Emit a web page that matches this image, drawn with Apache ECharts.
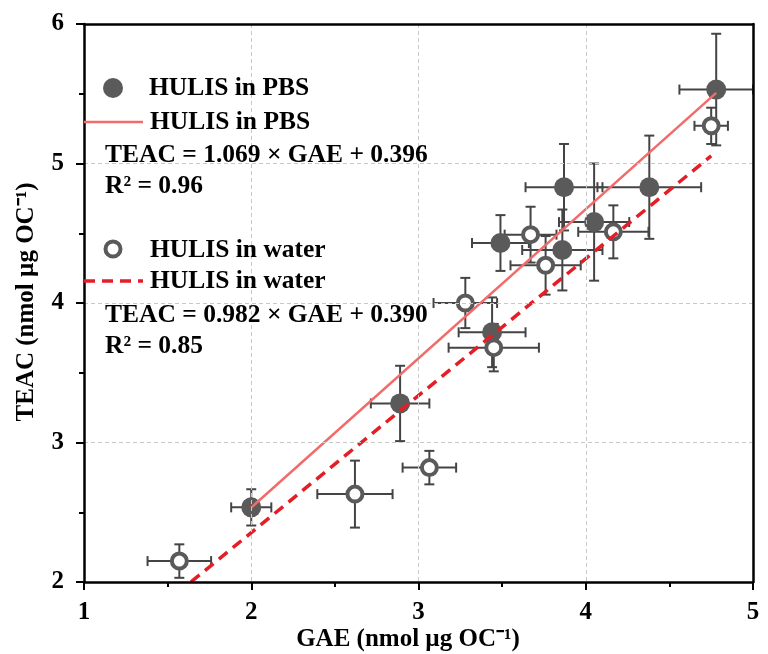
<!DOCTYPE html>
<html>
<head>
<meta charset="utf-8">
<script src="https://cdn.jsdelivr.net/npm/echarts@6/dist/echarts.min.js"></script>
<style>html,body{margin:0;padding:0;background:#fff}#c{width:768px;height:654px}</style>
</head>
<body>
<div id="c"></div>
<script>
// ---- data ----
const pbsX   = [2.00, 2.89, 3.44, 3.49, 3.86, 3.87, 4.05, 4.38, 4.78];
const pbsY   = [2.535, 3.28, 3.79, 4.43, 4.38, 4.83, 4.58, 4.83, 5.53];
const pbsXErr= [0.12, 0.175, 0.20, 0.17, 0.24, 0.23, 0.21, 0.31, 0.22];
const pbsYErr= [0.13, 0.27, 0.25, 0.20, 0.29, 0.31, 0.42, 0.37, 0.40];

const watX   = [1.57, 2.62, 3.065, 3.28, 3.45, 3.67, 3.76, 4.165, 4.75];
const watY   = [2.15, 2.63, 2.82, 4.00, 3.68, 4.49, 4.27, 4.51, 5.27];
const watXErr= [0.19, 0.225, 0.16, 0.19, 0.27, 0.155, 0.21, 0.21, 0.10];
const watYErr= [0.12, 0.24, 0.12, 0.18, 0.17, 0.20, 0.21, 0.19, 0.13];

const pbsFit = {slope: 1.069, intercept: 0.396, xStart: 2.0, xEnd: 4.78};
const watFit = {slope: 0.982, intercept: 0.390, xStart: 1.64, xEnd: 4.75};

const xTicks = [1, 2, 3, 4, 5];
const yTicks = [2, 3, 4, 5, 6];

const legendTexts = ['HULIS in PBS', 'HULIS in PBS', 'TEAC = 1.069 × GAE + 0.396', 'R² = 0.96',
                     'HULIS in water', 'HULIS in water', 'TEAC = 0.982 × GAE + 0.390', 'R² = 0.85'];
const xTitle = 'GAE (nmol µg OC⁻¹)';
const yTitle = 'TEAC (nmol µg OC⁻¹)';

// ---- build ----
const FONT = '"Liberation Serif", "Times New Roman", serif';
const gray = '#5a5a5a';
const errColor = '#444';
const pbsLineColor = '#f26b6b';
const watLineColor = '#e41e26';

function zipErr(xs, ys, xe, ye){ return xs.map((x,i)=>[x, ys[i], xe[i], ye[i]]); }
function fitLine(f){ return [[f.xStart, f.slope*f.xStart+f.intercept],[f.xEnd, f.slope*f.xEnd+f.intercept]]; }

function errRender(params, api){
  const x = api.value(0), y = api.value(1), xe = api.value(2), ye = api.value(3);
  const L = api.coord([x - xe, y]), R = api.coord([x + xe, y]);
  const T = api.coord([x, y + ye]), B = api.coord([x, y - ye]);
  const c = 5;
  const st = {stroke: errColor, lineWidth: 2};
  return {type:'group', children:[
    {type:'line', shape:{x1:L[0],y1:L[1],x2:R[0],y2:R[1]}, style:st},
    {type:'line', shape:{x1:L[0],y1:L[1]-c,x2:L[0],y2:L[1]+c}, style:st},
    {type:'line', shape:{x1:R[0],y1:R[1]-c,x2:R[0],y2:R[1]+c}, style:st},
    {type:'line', shape:{x1:T[0],y1:T[1],x2:B[0],y2:B[1]}, style:st},
    {type:'line', shape:{x1:T[0]-c,y1:T[1],x2:T[0]+c,y2:T[1]}, style:st},
    {type:'line', shape:{x1:B[0]-c,y1:B[1],x2:B[0]+c,y2:B[1]}, style:st}
  ]};
}

const chart = echarts.init(document.getElementById('c'), null, {renderer:'canvas'});
const LF = 'bold 25.5px ' + FONT;
const textStyleBase = {fill:'#000', font:LF, textVerticalAlign:'middle'};
const graphics = [
  {type:'circle', shape:{cx:113, cy:88, r:10}, style:{fill:gray}, z:100},
  {type:'text', x:149, y:88, style:Object.assign({text:legendTexts[0]}, textStyleBase), z:100},
  {type:'line', shape:{x1:84,y1:122,x2:143,y2:122}, style:{stroke:pbsLineColor, lineWidth:2.5}, z:100},
  {type:'text', x:150, y:122, style:Object.assign({text:legendTexts[1]}, textStyleBase), z:100},
  {type:'text', x:105, y:155, style:Object.assign({text:legendTexts[2]}, textStyleBase), z:100},
  {type:'text', x:105, y:186, style:Object.assign({text:legendTexts[3]}, textStyleBase), z:100},
  {type:'circle', shape:{cx:113, cy:249, r:7.5}, style:{fill:'#fff', stroke:gray, lineWidth:4}, z:100},
  {type:'text', x:150, y:250, style:Object.assign({text:legendTexts[4]}, textStyleBase), z:100},
  {type:'line', shape:{x1:84,y1:281,x2:143,y2:281}, style:{stroke:watLineColor, lineWidth:3.5, lineDash:[11,7]}, z:100},
  {type:'text', x:150, y:281, style:Object.assign({text:legendTexts[5]}, textStyleBase), z:100},
  {type:'text', x:105, y:315, style:Object.assign({text:legendTexts[6]}, textStyleBase), z:100},
  {type:'text', x:105, y:346, style:Object.assign({text:legendTexts[7]}, textStyleBase), z:100},
  {type:'text', x:408, y:640, style:{text:xTitle, fill:'#000', font:'bold 25px ' + FONT, textAlign:'center', textVerticalAlign:'middle'}, z:100},
  {type:'text', x:27, y:302, rotation:Math.PI/2, style:{text:yTitle, fill:'#000', font:'bold 25px ' + FONT, textAlign:'center', textVerticalAlign:'middle'}, z:100}
];

const plainAxis = {type:'value', axisLine:{show:true, onZero:false, lineStyle:{color:'#000', width:2.5}},
  axisTick:{show:false}, axisLabel:{show:false}, splitLine:{show:false}, minorTick:{show:false}};

chart.setOption({
  animation:false,
  backgroundColor:'#fff',
  grid:{left:84, right:15, top:24, bottom:72},
  xAxis:[{type:'value', min:xTicks[0], max:xTicks[xTicks.length-1], interval:1,
    axisLine:{show:true, onZero:false, lineStyle:{color:'#000', width:2.5}},
    axisTick:{show:true, inside:false, length:8, lineStyle:{color:'#000', width:2}},
    minorTick:{show:true, splitNumber:2, length:5, lineStyle:{color:'#000', width:2}},
    splitLine:{show:true, lineStyle:{color:'#c8c8c8', type:[4,3], width:1}},
    axisLabel:{margin:18, color:'#000', fontFamily:FONT, fontWeight:'bold', fontSize:25}, z:5},
    Object.assign({}, plainAxis, {position:'top', min:xTicks[0], max:xTicks[xTicks.length-1], z:5})],
  yAxis:[{type:'value', min:yTicks[0], max:yTicks[yTicks.length-1], interval:1,
    axisLine:{show:true, onZero:false, lineStyle:{color:'#000', width:2.5}},
    axisTick:{show:true, inside:false, length:8, lineStyle:{color:'#000', width:2}},
    minorTick:{show:true, splitNumber:2, length:5, lineStyle:{color:'#000', width:2}},
    splitLine:{show:true, lineStyle:{color:'#c8c8c8', type:[4,3], width:1}},
    axisLabel:{margin:20, color:'#000', fontFamily:FONT, fontWeight:'bold', fontSize:25}, z:5},
    Object.assign({}, plainAxis, {position:'right', min:yTicks[0], max:yTicks[yTicks.length-1], z:5})],
  graphic:graphics,
  series:[
    {type:'custom', name:'errPBS', renderItem:errRender, data:zipErr(pbsX,pbsY,pbsXErr,pbsYErr), z:2, encode:{x:0,y:1}},
    {type:'custom', name:'errWat', renderItem:errRender, data:zipErr(watX,watY,watXErr,watYErr), z:2, encode:{x:0,y:1}},
    {type:'scatter', name:'HULIS in PBS', data:pbsX.map((x,i)=>[x,pbsY[i]]), symbol:'circle', symbolSize:20,
      itemStyle:{color:gray, opacity:1}, z:3},
    {type:'scatter', name:'HULIS in water', data:watX.map((x,i)=>[x,watY[i]]), symbol:'circle', symbolSize:15,
      itemStyle:{color:'#fff', borderColor:gray, borderWidth:4, opacity:1}, z:3},
    {type:'line', name:'fitPBS', data:fitLine(pbsFit), showSymbol:false, symbol:'none',
      lineStyle:{color:pbsLineColor, width:2.5}, z:4},
    {type:'line', name:'fitWat', data:fitLine(watFit), showSymbol:false, symbol:'none',
      lineStyle:{color:watLineColor, width:3.5, type:[11,7]}, z:4}
  ]
});
</script>
</body>
</html>
